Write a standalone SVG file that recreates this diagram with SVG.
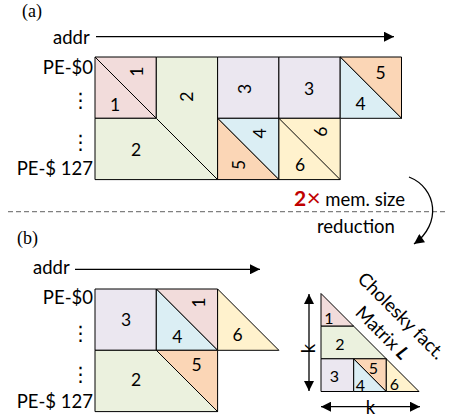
<svg xmlns="http://www.w3.org/2000/svg" width="450" height="419" viewBox="0 0 450 419">
<defs>
<style>
.t{font-family:Lato,"Open Sans","Liberation Sans",sans-serif;font-size:18.5px;fill:#000}
.n{font-family:Lato,"Open Sans","Liberation Sans",sans-serif;font-size:17.5px;fill:#000;text-anchor:middle}
.ns{font-family:Lato,"Open Sans","Liberation Sans",sans-serif;font-size:16px;fill:#000;text-anchor:middle}
.r{text-anchor:end}
.d{font-family:"DejaVu Sans",sans-serif;font-size:20px;text-anchor:middle}
.s{font-family:"Liberation Serif","Times New Roman",serif;font-size:18px;fill:#000}
.c{stroke:#000;stroke-width:1;stroke-linejoin:round}
.pk{fill:#f2dcdb}.gr{fill:#ebf1de}.lv{fill:#ebe7f0}.bl{fill:#dbeef4}.or{fill:#fbd6b6}.ye{fill:#fff2cd}
.ln{stroke:#000;stroke-width:1.3;fill:none}
</style>
<marker id="ah" viewBox="0 0 10 10" refX="10" refY="5" markerWidth="11" markerHeight="10" markerUnits="userSpaceOnUse" orient="auto-start-reverse">
<path d="M0,0 L10,5 L0,10 z" fill="#000"/>
</marker>
</defs>

<!-- (a) panel labels -->
<text class="s" x="22" y="17">(a)</text>
<text class="t" x="53" y="44">addr</text>
<text class="t r" x="93" y="74">PE-$0</text>
<text class="d" x="80.5" y="107">⋮</text>
<text class="d" x="80.5" y="149">⋮</text>
<text class="t r" x="93" y="175">PE-$ 127</text>

<!-- (a) blocks -->
<g id="a-cell-1">
<rect class="c pk" x="95" y="57" width="61.3" height="61.3"/>
<line class="c" x1="95" y1="57" x2="156.3" y2="118.3"/>
<text class="n" transform="translate(136.7,71.7) rotate(-90)" y="6.3">1</text>
<text class="n" x="115" y="110.5">1</text>
</g>
<g id="a-cell-2">
<polygon class="c gr" points="156.3,57 217.6,57 217.6,179.6 95,179.6 95,118.3 156.3,118.3"/>
<line class="c" x1="156.3" y1="118.3" x2="217.6" y2="179.6"/>
<text class="n" transform="translate(186.7,96.7) rotate(-90)" y="6.3">2</text>
<text class="n" x="136" y="155.6">2</text>
</g>
<g id="a-cell-3r">
<rect class="c lv" x="217.6" y="57" width="61.3" height="61.3"/>
<text class="n" transform="translate(245,89) rotate(-90)" y="6.3">3</text>
</g>
<g id="a-cell-3">
<rect class="c lv" x="278.9" y="57" width="61.3" height="61.3"/>
<text class="n" x="309" y="94.6">3</text>
</g>
<g id="a-cell-45">
<polygon class="c or" points="340.2,57 401.5,57 401.5,118.3"/>
<polygon class="c bl" points="340.2,57 401.5,118.3 340.2,118.3"/>
<text class="n" x="380.7" y="79">5</text>
<text class="n" x="360.7" y="109.6">4</text>
</g>
<g id="a-cell-54">
<polygon class="c bl" points="217.6,118.3 278.9,118.3 278.9,179.6"/>
<polygon class="c or" points="217.6,118.3 278.9,179.6 217.6,179.6"/>
<text class="n" transform="translate(259.3,133.3) rotate(-90)" y="6.3">4</text>
<text class="n" transform="translate(238.3,165) rotate(-90)" y="6.3">5</text>
</g>
<g id="a-cell-66">
<rect class="c ye" x="278.9" y="118.3" width="61.3" height="61.3"/>
<line class="c" x1="278.9" y1="118.3" x2="340.2" y2="179.6"/>
<text class="n" transform="translate(320.7,131.7) rotate(-90)" y="6.3">6</text>
<text class="n" x="300" y="171.3">6</text>
</g>

<!-- separator and reduction note -->
<g id="note">
<line x1="8" y1="211.7" x2="446" y2="211.7" stroke="#808080" stroke-width="1.2" stroke-dasharray="5,3"/>
<text class="t" x="294" y="206" font-size="19.5"><tspan fill="#c00000" font-weight="bold" font-size="21">2</tspan><tspan fill="#c00000" font-size="24" dx="0.5">×</tspan> mem. size</text>
<text class="t" x="317" y="233" font-size="19.5">reduction</text>
</g>

<!-- (b) panel labels -->
<text class="s" x="17" y="244">(b)</text>
<text class="t" x="33" y="274">addr</text>
<text class="t r" x="93" y="304">PE-$0</text>
<text class="d" x="80.5" y="340">⋮</text>
<text class="d" x="80.5" y="381">⋮</text>
<text class="t r" x="93" y="408">PE-$ 127</text>

<!-- (b) blocks -->
<g id="b-cell-3">
<rect class="c lv" x="95" y="289" width="61.3" height="61.3"/>
<text class="n" x="126" y="326.3">3</text>
</g>
<g id="b-cell-14">
<polygon class="c pk" points="156.3,289 217.6,289 217.6,350.3"/>
<polygon class="c bl" points="156.3,289 217.6,350.3 156.3,350.3"/>
<text class="n" transform="translate(198.3,302.7) rotate(-90)" y="6.3">1</text>
<text class="n" x="177.3" y="343">4</text>
</g>
<g id="b-cell-6">
<polygon class="c ye" points="217.6,289 278.9,350.3 217.6,350.3"/>
<text class="n" x="237.7" y="341.3">6</text>
</g>
<g id="b-cell-2">
<polygon class="c gr" points="95,350.3 156.3,350.3 217.6,411.6 95,411.6"/>
<text class="n" x="136" y="385.6">2</text>
</g>
<g id="b-cell-5">
<polygon class="c or" points="156.3,350.3 217.6,350.3 217.6,411.6"/>
<text class="n" x="196.7" y="371.3">5</text>
</g>

<!-- Cholesky triangle -->
<g id="L-1">
<polygon class="c pk" points="321,293.5 353.7,326.2 321,326.2"/>
<text class="ns" x="329" y="324">1</text>
</g>
<g id="L-2">
<polygon class="c gr" points="321,326.2 353.7,326.2 386.3,358.8 321,358.8"/>
<text class="ns" x="340" y="350">2</text>
</g>
<g id="L-3">
<rect class="c lv" x="321" y="358.8" width="32.7" height="32.7"/>
<text class="ns" x="334.3" y="381.7">3</text>
</g>
<g id="L-4">
<polygon class="c bl" points="353.7,358.8 386.3,391.5 353.7,391.5"/>
<text class="ns" x="360.5" y="390.7">4</text>
</g>
<g id="L-5">
<polygon class="c or" points="353.7,358.8 386.3,358.8 386.3,391.5"/>
<text class="ns" x="373.3" y="374">5</text>
</g>
<g id="L-6">
<polygon class="c ye" points="386.3,358.8 419,391.5 386.3,391.5"/>
<text class="ns" x="394.5" y="390">6</text>
</g>
<g id="L-title">
<text class="t" text-anchor="middle" font-size="19.5" transform="translate(401,316) rotate(45)" y="6">Cholesky fact.</text>
<text class="t" text-anchor="middle" font-size="19.5" transform="translate(382,333) rotate(45)" y="6">Matrix <tspan font-weight="bold" font-style="italic">L</tspan></text>
</g>
<text class="t" text-anchor="middle" transform="translate(315,348.5) rotate(-90)" font-size="20">k</text>
<text class="t" text-anchor="middle" x="370.5" y="414" font-size="20">k</text>

<!-- connectors -->
<g id="connectors">
<line class="ln" x1="96" y1="36.7" x2="394" y2="36.7" marker-end="url(#ah)"/>
<line class="ln" x1="75" y1="269.3" x2="260" y2="269.3" marker-end="url(#ah)"/>
<path class="ln" d="M409,177 C437,188 442,224 414,244" stroke-width="1.6" marker-end="url(#ah)"/>
<line class="ln" x1="309" y1="294" x2="309" y2="391" marker-start="url(#ah)" marker-end="url(#ah)"/>
<line class="ln" x1="321" y1="406.7" x2="420" y2="406.7" marker-start="url(#ah)" marker-end="url(#ah)"/>
</g>
</svg>
